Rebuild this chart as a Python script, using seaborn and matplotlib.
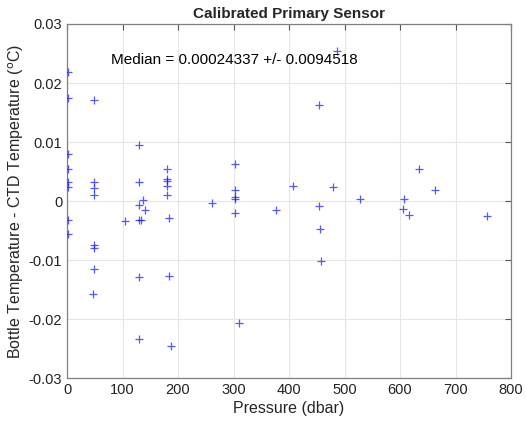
"""Bottle vs CTD temperature residuals against pressure."""

import matplotlib
matplotlib.use("Agg")
import matplotlib.pyplot as plt
import numpy as np
import pandas as pd
import seaborn as sns

# values
pressure = [
    2, 2, 2, 2, 2, 2, 2, 2,
    49, 49, 49, 49, 49, 49, 49, 47,
    104,
    130, 130, 130, 130, 130, 130, 134, 137, 141,
    181, 181, 181, 181, 181, 183, 184, 187,
    262,
    303, 303, 303, 303, 303, 309,
    377, 408, 454, 454, 456, 457, 479, 486, 528,
    605, 607, 616, 635, 663, 757,
]
temp_diff = [
    0.0218, 0.0174, 0.0080, 0.0054, 0.0033, 0.0023, -0.0033, -0.0056,
    0.0171, 0.0032, 0.0022, 0.0010, -0.0075, -0.0079, -0.0116, -0.0158,
    -0.0034,
    0.0095, 0.0033, -0.0007, -0.0032, -0.0128, -0.0234, -0.0032, 0.0001, -0.0016,
    0.0055, 0.0037, 0.0034, 0.0025, 0.0011, -0.0127, -0.0028, -0.0245,
    -0.0003,
    0.0062, 0.0019, 0.0006, 0.0004, -0.0020, -0.0206,
    -0.0016, 0.0025, 0.0163, -0.0008, -0.0048, -0.0101, 0.0024, 0.0254, 0.0003,
    -0.0013, 0.0003, -0.0023, 0.0054, 0.0018, -0.0025,
]
median_text = "Median = 0.00024337 +/- 0.0094518"

xticks = np.arange(0, 801, 100)
yticks = [-0.03, -0.02, -0.01, 0, 0.01, 0.02, 0.03]
ytick_labels = ["-0.03", "-0.02", "-0.01", "0", "0.01", "0.02", "0.03"]

sns.set_style("white")
plt.rcParams["font.family"] = ["Liberation Sans", "DejaVu Sans"]

df = pd.DataFrame({"pressure": pressure, "diff": temp_diff})

fig = plt.figure(figsize=(5.26, 4.21), dpi=100)
ax = fig.add_axes([0.1274, 0.1021, 0.8441, 0.8409])

sns.scatterplot(data=df, x="pressure", y="diff", marker="+", color="#1010ff",
                s=36, linewidth=0.9, alpha=0.7, ax=ax, zorder=3)

ax.set_xlim(0, 800)
ax.set_ylim(-0.03, 0.03)
ax.set_xticks(xticks)
ax.set_xticklabels([str(t) for t in xticks])
ax.set_yticks(yticks)
ax.set_yticklabels(ytick_labels)
ax.grid(True, color="#e6e6e6", linewidth=0.8)
ax.set_axisbelow(True)
ax.tick_params(direction="in", length=4, width=0.8, colors="#555555",
               labelcolor="#222222", labelsize=10.5, top=True, right=True,
               labeltop=False, labelright=False)
for side in ax.spines.values():
    side.set_color("#808080")
    side.set_linewidth(0.9)

ax.set_xlabel("Pressure (dbar)", fontsize=11.5, color="#262626", labelpad=3)
ax.set_ylabel(r"Bottle Temperature - CTD Temperature ($^{\mathrm{o}}$C)",
              fontsize=11.5, color="#262626", labelpad=2)
ax.set_title("Calibrated Primary Sensor", fontsize=11, fontweight="bold", pad=4)

ax.text(79, 0.0239, median_text, fontsize=11, va="center", ha="left", color="black")

fig.savefig("out.png", dpi=100)
plt.close(fig)
